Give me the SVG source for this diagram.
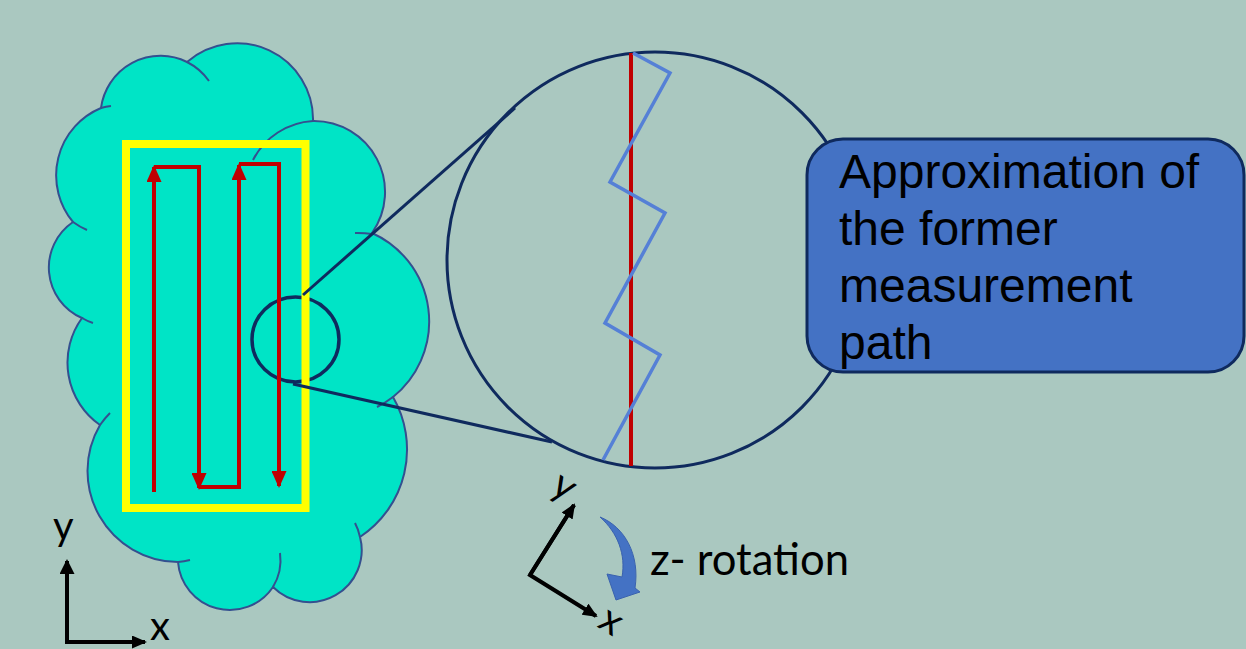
<svg xmlns="http://www.w3.org/2000/svg" width="1246" height="649" viewBox="0 0 1246 649">
<style>
.cloud{fill:#00E4C6;stroke:#34508F;stroke-width:2}
.tail{fill:none;stroke:#34508F;stroke-width:2}
.red{fill:none;stroke:#C00000;stroke-width:4}
.navy{fill:none;stroke:#0F2A5E;stroke-width:3}
.axis{fill:none;stroke:#000;stroke-width:4}
.lbl{font-family:Lato,"Liberation Sans",sans-serif;fill:#000}
.box{font-family:"Liberation Sans",Arial,sans-serif;font-size:48px;fill:#000}
</style>
<defs>
<marker id="ra" markerUnits="userSpaceOnUse" viewBox="0 0 17 15" markerWidth="17" markerHeight="15" refX="15" refY="7.5" orient="auto"><path d="M0 0 L17 7.5 L0 15 Z" fill="#C00000"/></marker>
<marker id="ka" markerUnits="userSpaceOnUse" viewBox="0 0 15 15" markerWidth="15" markerHeight="15" refX="13" refY="7.5" orient="auto"><path d="M0 0 L15 7.5 L0 15 Z" fill="#000"/></marker>
<marker id="ks" markerUnits="userSpaceOnUse" viewBox="0 0 15 13" markerWidth="15" markerHeight="13" refX="13" refY="6.5" orient="auto"><path d="M0 0 L15 6.5 L0 13 Z" fill="#000"/></marker>
</defs>
<rect width="1246" height="649" fill="#AAC8C0"/>

<g id="cloud">
<path class="cloud" d="M101 108 A60 60 0 0 1 187 62 A76 76 0 0 1 313 121 A71 71 0 0 1 372 233 A97 97 0 0 1 393 397 A105 105 0 0 1 360 537 A52 52 0 0 1 273 587 A52 52 0 0 1 178 562 A91 91 0 0 1 100 425 A76 76 0 0 1 82 318 A55 55 0 0 1 73 222 A73 73 0 0 1 101 108 Z"/>
<path class="tail" d="M187 62 A60 60 0 0 1 209 81"/>
<path class="tail" d="M253 160 A72 72 0 0 1 313 121"/>
<path class="tail" d="M355 233 A97 97 0 0 1 372 234"/>
<path class="tail" d="M393 397 A97 97 0 0 1 377 407"/>
<path class="tail" d="M355 523 A52 52 0 0 1 360 537"/>
<path class="tail" d="M280 553 A52 52 0 0 1 273 587"/>
<path class="tail" d="M190 560 A91 91 0 0 1 178 562"/>
<path class="tail" d="M100 425 A91 91 0 0 1 110 413"/>
<path class="tail" d="M93 323 A55 55 0 0 1 82 318"/>
<path class="tail" d="M87 230 A73 73 0 0 1 73 222"/>
<path class="tail" d="M101 108 A73 73 0 0 1 111 106"/>
</g>

<g id="small-circle">
<ellipse cx="295.5" cy="339.5" rx="43.5" ry="42.5" fill="none" stroke="#0F2A5E" stroke-width="3.5"/>
</g>

<g id="scan-area">
<rect x="126" y="144" width="179.5" height="364" fill="none" stroke="#FFFF00" stroke-width="8"/>
</g>

<g id="scan-path">
<path class="red" d="M154 492 V167" marker-end="url(#ra)"/>
<path class="red" d="M154 167 H199 V488" marker-end="url(#ra)"/>
<path class="red" d="M199 487 H239 V165" marker-end="url(#ra)"/>
<path class="red" d="M239 164 H279 V486" marker-end="url(#ra)"/>
</g>

<g id="connectors">
<line class="navy" x1="303" y1="295" x2="515" y2="108"/>
<line class="navy" x1="293" y1="384" x2="552" y2="442"/>
</g>

<g id="big-circle">
<circle cx="655" cy="260" r="208" fill="none" stroke="#0F2A5E" stroke-width="3"/>
<line x1="631" y1="53" x2="631" y2="466" stroke="#C00000" stroke-width="4"/>
<polyline points="633,53 670,73 610,182 665,213 605,323 660,355 603,460" fill="none" stroke="#5580D6" stroke-width="3.5"/>
</g>

<g id="callout">
<rect x="807" y="139" width="437" height="233" rx="36" fill="#4472C4" stroke="#0F2A5E" stroke-width="3"/>
<text class="box" x="839" y="188">Approximation of</text>
<text class="box" x="839" y="245">the former</text>
<text class="box" x="839" y="302">measurement</text>
<text class="box" x="839" y="359">path</text>
</g>

<g id="xy-axes">
<path class="axis" d="M67 643 V561" marker-end="url(#ka)"/>
<path class="axis" d="M65 642 H145" marker-end="url(#ks)"/>
<text class="lbl" x="53" y="540" font-size="40">y</text>
<text class="lbl" x="150" y="640" font-size="40">x</text>
</g>

<g id="rotated-axes">
<path class="axis" stroke-width="3.5" d="M574 505 L530 575 L596 616" marker-end="url(#ks)"/>
<path class="axis" stroke-width="3.5" d="M530 575 L574 505" marker-end="url(#ks)"/>
<text class="lbl" font-size="40" text-anchor="middle" transform="translate(561,492) rotate(32)" y="6">y</text>
<text class="lbl" font-size="40" text-anchor="middle" transform="translate(610,623) rotate(32)" y="10">x</text>
</g>

<g id="z-rotation">
<path d="M600 517 C625 527 640 555 635 588 L640 592 L616 600 L607 574 L622 577 C626 555 618 533 600 517 Z" fill="#4472C4" stroke="#3A62AE" stroke-width="1"/>
<text class="lbl" x="650" y="575" font-size="45" textLength="199" lengthAdjust="spacingAndGlyphs">z- rotation</text>
</g>
</svg>
